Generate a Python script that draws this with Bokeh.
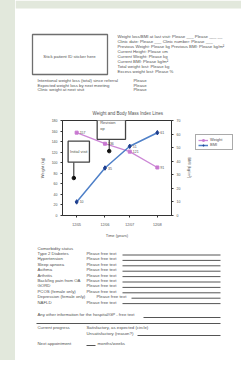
from bokeh.plotting import figure
from bokeh.models import (Range1d, LinearAxis, FixedTicker, Label, Div, Legend)
from bokeh.layouts import row, column
from bokeh.core.properties import value
from bokeh.embed import file_html
from bokeh.resources import INLINE

# ---------------- data ----------------
visit_dates = ["12/05", "12/06", "12/07", "12/08"]
visit_month = [1.0, 3.0, 4.75, 6.7]
weight_kg = [157, 136, 121, 91]
bmi_vals = [10, 35, 51, 61]
event_month = [0.8, 3.3]
event_weight = [71, 122]
event_names = ["Initial visit", "Revision\nop"]
series_names = ["Weight", "BMI"]

header_lines = [
    "Weight loss/BMI at last visit: Please ___  Please ___ __",
    "Clinic date: Please ___      Clinic number: Please ___",
    "Previous Weight: Please kg  Previous BMI: Please kg/m²",
    "Current Height: Please cm",
    "Current Weight: Please kg",
    "Current BMI: Please kg/m²",
    "Total weight lost: Please kg",
    "Excess weight lost: Please %",
]
intent_lines = [
    "Intentional weight loss (total) since referral",
    "Expected weight loss by next meeting",
    "Clinic weight at next visit",
]
comorbidities = ["Type 2 Diabetes", "Hypertension", "Sleep apnoea", "Asthma",
                 "Arthritis", "Back/leg pain from OA", "GORD", "PCOS (female only)",
                 "Depression (female only)", "NAFLD"]

GREEN = "#e2e8dc"
TXT = "#505050"
FONT = value("Liberation Sans")
FS = "4.3px"
W = 226          # page column: window x 15 .. 241
PINK_L, PINK_M = "#cc88d6", "#c878d0"
BLUE_L, BLUE_M = "#4f80c8", "#1f3f8f"


def blank(width, height, x0, x1, y0, y1):
    f = figure(width=width, height=height, x_range=Range1d(x0, x1), y_range=Range1d(y1, y0),
               x_axis_location=None, y_axis_location=None, toolbar_location=None,
               output_backend="svg", min_border=0)
    f.outline_line_color = None
    f.xgrid.visible = False
    f.ygrid.visible = False
    f.background_fill_color = "white"
    f.border_fill_color = "white"
    return f


def txt(fig, xs, ys, texts, **kw):
    fig.text(x=xs, y=ys, text=texts, text_font=FONT, text_font_size=FS,
             text_baseline="middle", text_color=TXT, **kw)


# ---------------- header (window y 0..95) ----------------
top = blank(W, 95, 15, 241, 0, 95)
top.quad(left=[15], right=[241], top=[0], bottom=[8], fill_color=GREEN, line_color=None)
top.quad(left=[32], right=[107], top=[34], bottom=[74], fill_color=None,
         line_color="#6e6e6e", line_width=1.3)
txt(top, [69], [56], ["Stick patient ID sticker here"], text_align="center")
hy = [36 + 5 * i for i in range(len(header_lines))]
txt(top, [117] * len(header_lines), hy, header_lines)
iy = [80, 84.5, 89]
txt(top, [37] * 3, iy, intent_lines)
txt(top, [133] * 3, iy, ["Please"] * 3)

# ---------------- chart (window x 15..195, y 95..240) ----------------
p = figure(width=180, height=145, x_range=Range1d(0, 7.7), y_range=Range1d(0, 180),
           toolbar_location=None, output_backend="svg",
           min_border_left=47, min_border_right=19, min_border_top=25, min_border_bottom=21)
p.title.text = "Weight and Body Mass Index Lines"
p.title.text_font = "Liberation Sans"
p.title.text_font_size = "4.5px"
p.title.text_font_style = "normal"
p.title.text_color = TXT
p.title.align = "left"
p.title.offset = 30
p.title.standoff = 10
p.outline_line_color = "#333333"
p.xgrid.visible = False
p.ygrid.visible = False
p.extra_y_ranges = {"bmi": Range1d(0, 70)}

p.yaxis.ticker = FixedTicker(ticks=list(range(0, 181, 20)))
p.yaxis.axis_label = "Weight (kg)"
p.add_layout(LinearAxis(y_range_name="bmi", axis_label="BMI (kg/m²)",
                        ticker=FixedTicker(ticks=list(range(0, 71, 10)))), "right")
p.xaxis.ticker = FixedTicker(ticks=visit_month)
p.xaxis.major_label_overrides = {m: d for m, d in zip(visit_month, visit_dates)}
p.xaxis.axis_label = "Time (years)"
for ax in p.axis:
    ax.axis_line_color = "#333333"
    ax.major_tick_line_color = "#333333"
    ax.minor_tick_line_color = None
    ax.major_tick_out = 2
    ax.major_tick_in = 0
    ax.major_label_text_font = "Liberation Sans"
    ax.major_label_text_font_size = "3.5px"
    ax.major_label_text_color = TXT
    ax.major_label_standoff = 3
    ax.axis_label_text_font = "Liberation Sans"
    ax.axis_label_text_font_size = "4px"
    ax.axis_label_text_font_style = "normal"
    ax.axis_label_text_color = TXT
    ax.axis_label_standoff = 4
p.xaxis.major_label_standoff = 5
p.xaxis.axis_label_standoff = 3

p.line(visit_month, weight_kg, line_color=PINK_L, line_width=1.3)
p.scatter(visit_month, weight_kg, marker="square", size=3, fill_color=PINK_M, line_color=PINK_M)
p.line(visit_month, bmi_vals, y_range_name="bmi", line_color=BLUE_L, line_width=1.5)
p.scatter(visit_month, bmi_vals, y_range_name="bmi", marker="diamond", size=4.5,
          fill_color=BLUE_M, line_color=BLUE_M)
p.text(x=visit_month, y=weight_kg, text=[str(v) for v in weight_kg], x_offset=3,
       text_font=FONT, text_font_size="3.5px", text_baseline="middle", text_color=TXT)
p.text(x=visit_month, y=bmi_vals, text=[str(v) for v in bmi_vals], y_range_name="bmi",
       x_offset=3, text_font=FONT, text_font_size="3.5px", text_baseline="middle",
       text_color=TXT)

# event markers with callout boxes
p.segment(x0=event_month, y0=[101, 156], x1=event_month, y1=event_weight,
          line_color="#222222", line_width=1)
p.scatter(event_month, event_weight, size=3.5, fill_color="#111111", line_color="#111111")
p.add_layout(Label(x=1.15, y=121, text=event_names[0], text_font="Liberation Sans",
                   text_font_size="4px", text_color=TXT, text_align="center",
                   text_baseline="middle", border_line_color="#444444", border_line_width=1.3,
                   background_fill_color="white",
                   padding=dict(left=2, right=2, top=8, bottom=8)))
p.add_layout(Label(x=2.45, y=188, text=event_names[1], text_font="Liberation Sans",
                   text_font_size="4px", text_color=TXT, text_align="left",
                   text_baseline="top", border_line_color="#444444", border_line_width=1.3,
                   background_fill_color="white",
                   padding=dict(left=3, right=10, top=4, bottom=8)))

# frame drawn round the date labels below the axis
p.add_layout(Label(x=3.9, y=-17, text=" ", text_font="Liberation Sans",
                   text_font_size="4px", text_align="center", text_baseline="middle",
                   border_line_color="#444444", border_line_width=1.3,
                   background_fill_color=None,
                   padding=dict(left=53, right=53, top=1, bottom=1)))

# ---------------- legend panel (window x 195..241) ----------------
lg = blank(46, 145, 0, 1, 0, 1)
# the same series, drawn outside this panel's ranges, only to key the legend
wl = lg.line(visit_month, weight_kg, line_color=PINK_L, line_width=1.3)
ws = lg.scatter(visit_month, weight_kg, marker="square", size=3, fill_color=PINK_M,
                line_color=PINK_M)
bl = lg.line(visit_month, bmi_vals, line_color=BLUE_L, line_width=1.5)
bs = lg.scatter(visit_month, bmi_vals, marker="diamond", size=4.5, fill_color=BLUE_M,
                line_color=BLUE_M)
legend = Legend(items=[(series_names[0], [wl, ws]), (series_names[1], [bl, bs])],
                location=(0, 65))
legend.label_text_font = "Liberation Sans"
legend.label_text_font_size = "4px"
legend.label_text_color = TXT
legend.glyph_width = 10
legend.glyph_height = 4
legend.label_height = 4
legend.spacing = 0
legend.padding = 2
legend.margin = 0
legend.label_standoff = 2
legend.border_line_color = "#555555"
legend.border_line_width = 1.6
lg.add_layout(legend)

# ---------------- bottom form (window y 240..360) ----------------
bot = blank(W, 120, 15, 241, 240, 360)
txt(bot, [37], [248], ["Comorbidity status"])
cy = [253 + 5.4 * i for i in range(len(comorbidities))]
txt(bot, [37] * len(cy), cy, comorbidities)
px = [86] * len(cy)
px[8] = 96
txt(bot, px, cy, ["Please free text"] * len(cy))
lx = [122] * len(cy)
lx[8] = 131
bot.segment(x0=lx, y0=[c + 1.5 for c in cy], x1=[220] * len(cy),
            y1=[c + 1.5 for c in cy], line_color="#555555", line_width=1)
txt(bot, [37], [314], ["Any other information for the hospital/GP - free text"])
bot.segment(x0=[143, 36], y0=[317, 323], x1=[220, 220], y1=[317, 323],
            line_color="#555555", line_width=1)
txt(bot, [37, 86, 86, 37, 97], [327, 327, 333, 343, 343],
    ["Current progress", "Satisfactory, as expected (circle)",
     "Unsatisfactory (reason?)", "Next appointment", "months/weeks"])
bot.segment(x0=[137, 86], y0=[335, 345], x1=[220, 95], y1=[335, 345],
            line_color="#555555", line_width=1)

left_strip = Div(width=15, height=360, styles={"background-color": GREEN}, margin=0)
layout = row(left_strip, column(top, row(p, lg, spacing=0), bot, spacing=0), spacing=0)

open("out.html", "w").write(file_html(layout, INLINE))
